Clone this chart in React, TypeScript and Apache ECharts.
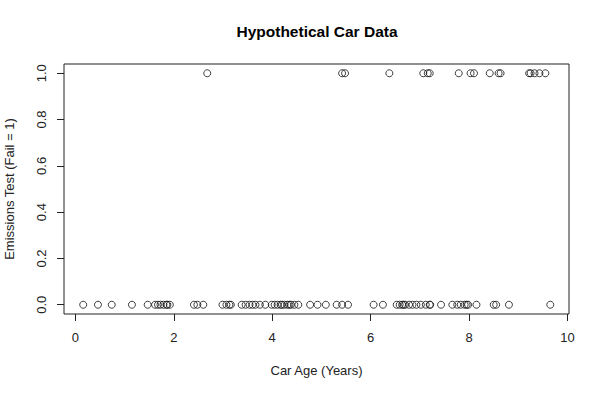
import React, { useEffect, useRef } from "react";
import * as echarts from "echarts";

const chartTitle = "Hypothetical Car Data";
const xAxisTitle = "Car Age (Years)";
const yAxisTitle = "Emissions Test (Fail = 1)";

// Car ages of cars that passed (0)
const agesPass: number[] = [
  0.16, 0.46, 0.74, 1.15, 1.47, 1.62, 1.68, 1.73, 1.79, 1.85, 1.87, 1.92,
  2.41, 2.48, 2.6, 2.99, 3.07, 3.13, 3.16, 3.38, 3.46, 3.54, 3.6, 3.66,
  3.75, 3.86, 3.99, 4.05, 4.11, 4.17, 4.2, 4.25, 4.31, 4.35, 4.38, 4.45,
  4.53, 4.77, 4.92, 5.09, 5.31, 5.42, 5.54, 6.06, 6.25, 6.53, 6.59, 6.64,
  6.67, 6.7, 6.78, 6.85, 6.93, 7.02, 7.12, 7.2, 7.21, 7.43, 7.66, 7.76,
  7.83, 7.91, 7.95, 7.98, 8.15, 8.5, 8.55, 8.81, 9.65,
];
// Car ages of cars that failed (1)
const agesFail: number[] = [
  2.68, 5.42, 5.48, 6.38, 7.07, 7.16, 7.2, 7.79, 8.03, 8.1, 8.42, 8.6, 8.64,
  9.22, 9.25, 9.33, 9.43, 9.55,
];

const xTicks = [0, 2, 4, 6, 8, 10];
const yTicks = [0, 0.2, 0.4, 0.6, 0.8, 1.0];

export default function App() {
  const ref = useRef<HTMLDivElement>(null);
  useEffect(() => {
    document.body.style.margin = "0";
    const chart = echarts.init(ref.current!, undefined, { renderer: "svg" });
    const font = "'Liberation Sans', Arial, sans-serif";
    const data = [
      ...agesPass.map((a) => [a, 0]),
      ...agesFail.map((a) => [a, 1]),
    ];
    chart.setOption({
      animation: false,
      backgroundColor: "#fff",
      title: {
        text: chartTitle,
        left: 312,
        top: 18,
        textAlign: "center",
        textStyle: { fontFamily: font, fontSize: 15.5, fontWeight: "bold", color: "#000" },
      },
      grid: {
        left: 64,
        top: 64,
        width: 505,
        height: 250,
        show: true,
        borderColor: "#222",
        borderWidth: 1,
        backgroundColor: "transparent",
        outerBoundsMode: "none",
      },
      xAxis: {
        type: "value",
        position: "bottom",
        min: -0.23,
        max: 10.03,
        name: xAxisTitle,
        nameLocation: "middle",
        nameGap: 50,
        nameMoveOverlap: false,
        nameTextStyle: { fontFamily: font, fontSize: 13, color: "#222" },
        axisLine: { show: false, onZero: false },
        splitLine: { show: false },
        axisTick: {
          show: true,
          inside: false,
          length: 7,
          customValues: xTicks,
          lineStyle: { color: "#222" },
        },
        axisLabel: {
          customValues: xTicks,
          margin: 17,
          fontFamily: font,
          fontSize: 13,
          color: "#222",
        },
      },
      yAxis: {
        type: "value",
        position: "left",
        min: -0.04,
        max: 1.04,
        name: yAxisTitle,
        nameLocation: "middle",
        nameGap: 48,
        nameRotate: 90,
        nameMoveOverlap: false,
        nameTextStyle: { fontFamily: font, fontSize: 13, color: "#222" },
        axisLine: { show: false, onZero: false },
        splitLine: { show: false },
        axisTick: {
          show: true,
          inside: false,
          length: 7,
          customValues: yTicks,
          lineStyle: { color: "#222" },
        },
        axisLabel: {
          customValues: yTicks,
          rotate: 90,
          margin: 16,
          fontFamily: font,
          fontSize: 13,
          color: "#222",
          formatter: (v: number) => v.toFixed(1),
        },
      },
      series: [
        {
          type: "scatter",
          data,
          symbol: "circle",
          symbolSize: 7,
          itemStyle: { color: "transparent", borderColor: "#111", borderWidth: 1 },
        },
      ],
    });
    return () => chart.dispose();
  }, []);
  return <div ref={ref} style={{ width: 602, height: 394 }} />;
}
